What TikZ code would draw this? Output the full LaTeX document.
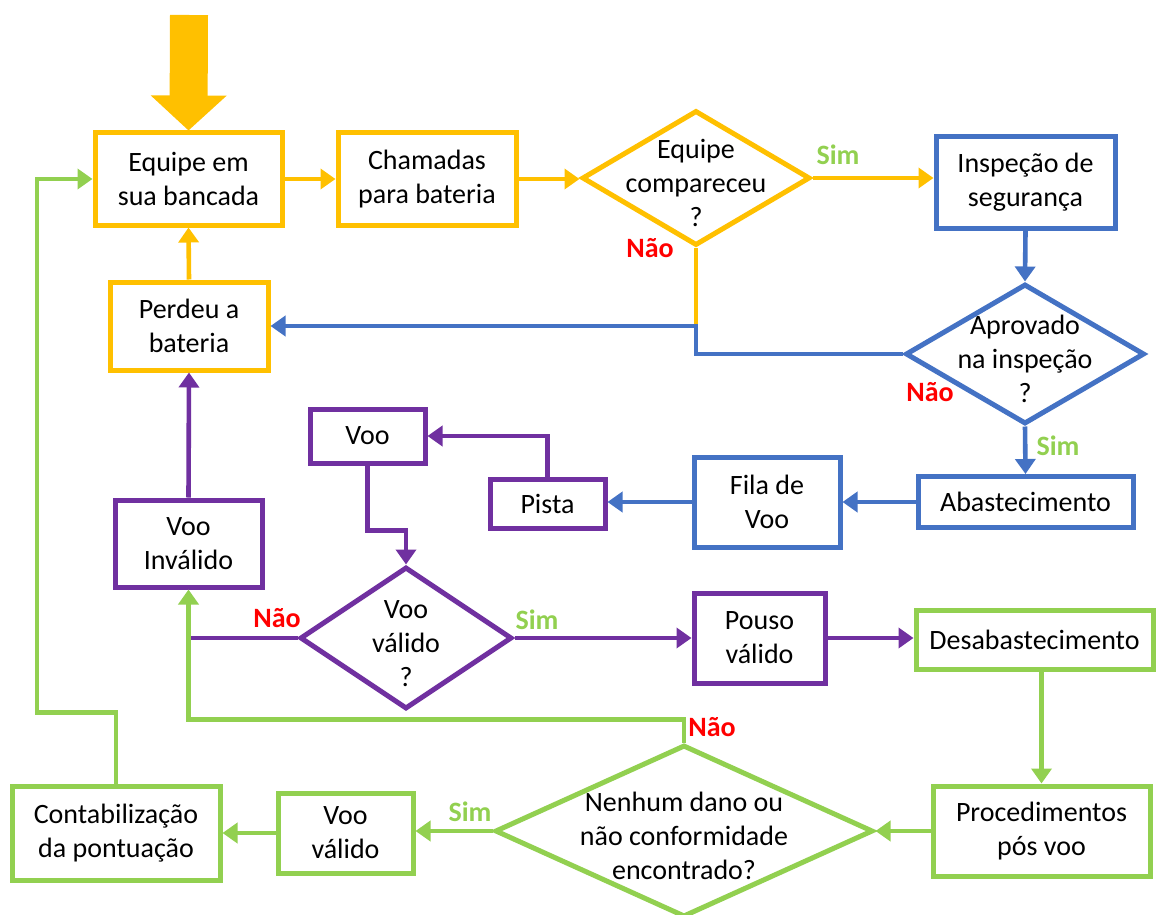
\documentclass[tikz,border=0pt]{standalone}
\usepackage{fontspec}
\setmainfont{Carlito}
\usepackage{tikz}
\usetikzlibrary{arrows.meta}
\usetikzlibrary{shapes.geometric}
\usetikzlibrary{positioning}
\definecolor{cy}{HTML}{FFC000}
\definecolor{cb}{HTML}{4472C4}
\definecolor{cp}{HTML}{7030A0}
\definecolor{cg}{HTML}{92D050}
\definecolor{cr}{HTML}{FF0000}
\tikzstyle{box}=[draw,rectangle,line width=2.5pt,fill=white,align=center,inner sep=2pt]
\tikzstyle{dec}=[draw,diamond,line width=2.5pt,fill=white,inner sep=0pt]
\tikzstyle{flow}=[line width=2.3pt,-{Triangle[length=7.5pt,width=10pt]}]
\tikzstyle{line}=[line width=2.3pt]
\tikzstyle{sim}=[text=cg,font=\fontsize{14}{17}\selectfont\bfseries]
\tikzstyle{nao}=[text=cr,font=\fontsize{14}{17}\selectfont\bfseries]
\newcommand{\dtxt}[1]{\makebox[0pt]{\smash{\raisebox{-7.5pt}{\begin{tabular}{@{}c@{}}#1\end{tabular}}}}}

\begin{document}
\begin{tikzpicture}[x=0.5pt,y=-0.5pt,font=\fontsize{14}{17}\selectfont]
\useasboundingbox (0,0) rectangle (1156,915);
% boxes
\node[box,draw=cy,minimum width=93.5pt,minimum height=46pt] (bancada) at (188.5,179) {Equipe em\\sua bancada};
\node[box,draw=cy,minimum width=89pt,minimum height=46pt] (chamadas) at (427,179) {Chamadas\\para bateria};
\node[dec,draw=cy,minimum width=114pt,minimum height=67.5pt] (compareceu) at (696,178) {\dtxt{Equipe\\compareceu\\?}};
\node[box,draw=cb,minimum width=89.5pt,minimum height=45.5pt] (inspecao) at (1025.5,182.5) {Inspeção de\\segurança};
\node[box,draw=cy,minimum width=79pt,minimum height=44pt] (perdeu) at (189,326) {Perdeu a\\bateria};
\node[dec,draw=cb,minimum width=119.5pt,minimum height=70pt] (aprovado) at (1025,354) {\dtxt{Aprovado\\na inspeção\\?}};
\node[box,draw=cp,minimum width=73.5pt,minimum height=43.5pt] (invalido) at (188.5,543.5) {Voo\\Inválido};
\node[box,draw=cp,minimum width=57.5pt,minimum height=27pt] (voo) at (367.5,436) {Voo};
\node[box,draw=cp,minimum width=57.5pt,minimum height=24.5pt] (pista) at (547.5,503.5) {Pista};
\node[box,draw=cb,minimum width=73pt,minimum height=45pt] (fila) at (767,502) {Fila de\\Voo};
\node[box,draw=cb,minimum width=107.5pt,minimum height=25.5pt] (abast) at (1025.5,502) {Abastecimento};
\node[dec,draw=cp,minimum width=106pt,minimum height=71pt] (valido) at (406,638) {\dtxt{Voo\\válido\\?}};
\node[box,draw=cp,minimum width=65.5pt,minimum height=45pt] (pouso) at (759.5,638) {Pouso\\válido};
\node[box,draw=cg,minimum width=118.5pt,minimum height=29.5pt] (desabast) at (1034.5,639.5) {Desabastecimento};
\node[box,draw=cg,minimum width=108.5pt,minimum height=45pt] (procedimentos) at (1041.5,831) {Procedimentos\\pós voo};
\node[dec,draw=cg,minimum width=189pt,minimum height=86pt] (dano) at (684,831) {\dtxt{Nenhum dano ou\\não conformidade\\encontrado?}};
\node[box,draw=cg,minimum width=67.5pt,minimum height=40pt] (voovalido) at (345.5,833) {Voo\\válido};
\node[box,draw=cg,minimum width=104pt,minimum height=47pt] (contab) at (116,833) {Contabilização\\da pontuação};
% entry arrow
\coordinate (entrada) at (189,15);
\draw[cy,line width=19pt,-{Triangle[length=17.5pt,width=37pt]}] (entrada) -- (bancada.north);
% yellow
\draw[flow,cy] (bancada.east) -- (chamadas.west);
\draw[flow,cy] (chamadas.east) -- (chamadas.east -| compareceu.west);
\draw[flow,cy] (compareceu.east) -- (compareceu.east -| inspecao.west);
\draw[line,cy] (compareceu.south) -- (compareceu.south |- perdeu.east);
\draw[flow,cy] (perdeu.north) -- (bancada.south);
% blue
\draw[flow,cb] (aprovado.west) -- (aprovado.west -| compareceu.south) -- (compareceu.south |- perdeu.east) -- (perdeu.east);
\draw[flow,cb] (inspecao.south) -- (aprovado.north);
\draw[flow,cb] (aprovado.south) -- (abast.north);
\draw[flow,cb] (abast.west) -- (fila.east);
\draw[flow,cb] (fila.west) -- (fila.west -| pista.east);
% purple
\draw[flow,cp] (pista.north) |- (voo.east);
\draw[flow,cp] (voo.south) -- ++(0,65) -| (valido.north);
\draw[line,cp] (valido.west) -- (valido.west -| invalido.south);
\draw[flow,cp] (valido.east) -- (pouso.west);
\draw[flow,cp] (pouso.east) -- (pouso.east -| desabast.west);
\draw[flow,cp] (invalido.north) -- (perdeu.south);
% green
\draw[flow,cg] (procedimentos.north |- desabast.south) -- (procedimentos.north);
\draw[flow,cg] (procedimentos.west) -- (dano.east);
\draw[flow,cg] (dano.north) -- ++(0,-23) -| (invalido.south);
\draw[flow,cg] (dano.west) -- (dano.west -| voovalido.east);
\draw[flow,cg] (voovalido.west) -- (voovalido.west -| contab.east);
\draw[flow,cg] (contab.north) -- ++(0,-71) -- ++(-79,0) |- (bancada.west);
% labels
\node[sim] (sim1) at (838,155) {Sim};
\node[nao] (nao1) at (650,248) {Não};
\node[nao] (nao2) at (930,392) {Não};
\node[sim] (sim2) at (1058,446) {Sim};
\node[nao] (nao3) at (277,618) {Não};
\node[sim] (sim3) at (537,620) {Sim};
\node[nao] (nao4) at (712,727) {Não};
\node[sim] (sim4) at (470,812) {Sim};
\end{tikzpicture}
\end{document}
